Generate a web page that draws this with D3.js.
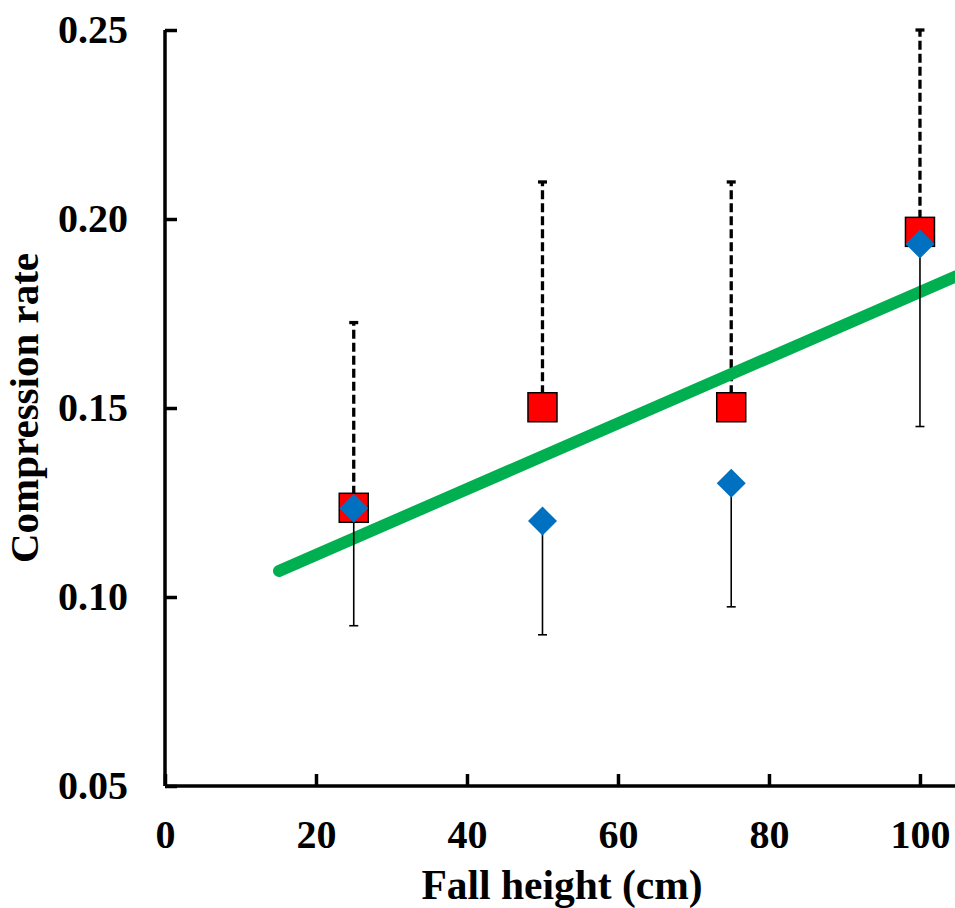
<!DOCTYPE html>
<html>
<head>
<meta charset="utf-8">
<script src="https://cdn.jsdelivr.net/npm/d3@7"></script>
<style>
  html, body { margin: 0; padding: 0; background: #fff; }
  svg { display: block; }
  text { font-family: "Liberation Serif", "Times New Roman", serif; font-weight: bold; fill: #000; }
</style>
</head>
<body>
<svg id="chart" width="955" height="908"></svg>
<script>
// ---- data ----
const fallHeights = [25, 50, 75, 100];
const redMeans   = [0.1236, 0.1502, 0.1502, 0.1966];
const redUpper   = [0.1726, 0.2098, 0.2098, 0.2500];
const blueMeans  = [0.1235, 0.1201, 0.1301, 0.1934];
const blueLower  = [0.0924, 0.0900, 0.0974, 0.1451];
const trendX     = [15.1, 110];
const trendY     = [0.1069, 0.1894];
const xTicks     = [0, 20, 40, 60, 80, 100];
const yTicks     = [0.05, 0.10, 0.15, 0.20, 0.25];
const xTitle = "Fall height (cm)";
const yTitle = "Compression rate";

const svg = d3.select("#chart");
const W = 955, H = 908;

const x = d3.scaleLinear().domain([0, 104.64]).range([165, 955]);
const y = d3.scaleLinear().domain([0.05, 0.25]).range([786, 30]);

svg.append("defs").append("clipPath").attr("id", "clip")
  .append("rect").attr("x", 0).attr("y", 0).attr("width", W).attr("height", H);

// axes
const xAxis = d3.axisBottom(x).tickValues(xTicks).tickSizeInner(-12).tickSizeOuter(0)
  .tickPadding(34).tickFormat(d3.format("d"));
const yAxis = d3.axisLeft(y).tickValues(yTicks).tickSizeInner(-12).tickSizeOuter(0)
  .tickPadding(37).tickFormat(d3.format(".2f"));

const gx = svg.append("g").attr("transform", `translate(0,${y(0.05)})`).call(xAxis);
const gy = svg.append("g").attr("transform", `translate(${x(0)},0)`).call(yAxis);
[gx, gy].forEach(g => {
  g.select(".domain").attr("stroke", "#000").attr("stroke-width", 3.5);
  g.selectAll(".tick line").attr("stroke", "#000").attr("stroke-width", 3.5);
  g.selectAll(".tick text").style("font-size", "40px")
    .style("font-family", '"Liberation Serif", "Times New Roman", serif')
    .style("font-weight", "bold").attr("fill", "#000");
});
gx.select(".domain").attr("d", `M${x(0)},0H${W}`);
gy.select(".domain").attr("d", `M0,${y(0.25)}V${y(0.05)}`);

// titles
svg.append("text").attr("x", 562).attr("y", 899).attr("text-anchor", "middle")
  .style("font-size", "41.5px").text(xTitle);
svg.append("text").attr("transform", `translate(38,408) rotate(-90)`)
  .attr("text-anchor", "middle").style("font-size", "41px").text(yTitle);

const plot = svg.append("g").attr("clip-path", "url(#clip)");
const capW = 9;

// red dashed upper error bars
fallHeights.forEach((h, i) => {
  plot.append("line").attr("x1", x(h)).attr("x2", x(h))
    .attr("y1", y(redMeans[i])).attr("y2", y(redUpper[i]))
    .attr("stroke", "#000").attr("stroke-width", 3.3).attr("stroke-dasharray", "9,4");
  plot.append("line").attr("x1", x(h) - capW / 2).attr("x2", x(h) + capW / 2)
    .attr("y1", y(redUpper[i])).attr("y2", y(redUpper[i]))
    .attr("stroke", "#000").attr("stroke-width", 3.3);
});

// trend line
plot.append("path")
  .datum(trendX.map((v, i) => [v, trendY[i]]))
  .attr("d", d3.line().x(d => x(d[0])).y(d => y(d[1])))
  .attr("fill", "none").attr("stroke", "#00B050").attr("stroke-width", 12)
  .attr("stroke-linecap", "round");

// blue solid lower error bars
fallHeights.forEach((h, i) => {
  plot.append("line").attr("x1", x(h)).attr("x2", x(h))
    .attr("y1", y(blueMeans[i])).attr("y2", y(blueLower[i]))
    .attr("stroke", "#000").attr("stroke-width", 1.6);
  plot.append("line").attr("x1", x(h) - capW / 2).attr("x2", x(h) + capW / 2)
    .attr("y1", y(blueLower[i])).attr("y2", y(blueLower[i]))
    .attr("stroke", "#000").attr("stroke-width", 1.6);
});

// red squares
const sq = 29;
plot.selectAll(".sq").data(fallHeights).enter().append("rect")
  .attr("x", d => x(d) - sq / 2)
  .attr("y", (d, i) => y(redMeans[i]) - sq / 2)
  .attr("width", sq).attr("height", sq)
  .attr("fill", "#FF0000").attr("stroke", "#000").attr("stroke-width", 1.5);

// blue diamonds
const dr = 14.5;
plot.selectAll(".dm").data(fallHeights).enter().append("path")
  .attr("d", (d, i) => {
    const cx = x(d), cy = y(blueMeans[i]);
    return `M${cx},${cy - dr}L${cx + dr},${cy}L${cx},${cy + dr}L${cx - dr},${cy}Z`;
  })
  .attr("fill", "#0070C0");
</script>
</body>
</html>
